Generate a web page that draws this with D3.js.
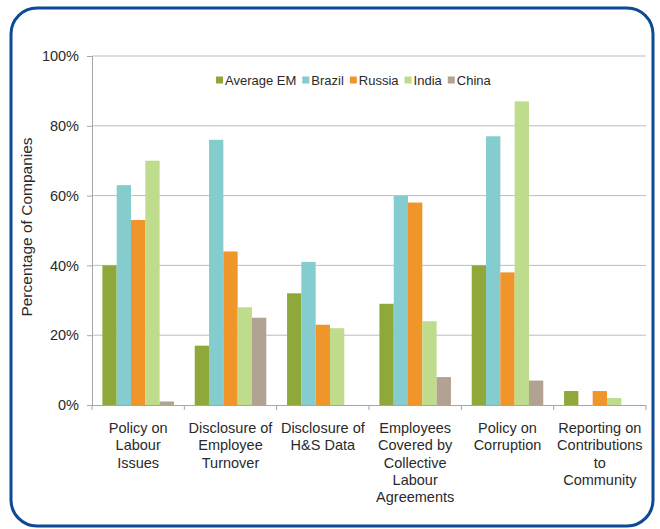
<!DOCTYPE html>
<html><head><meta charset="utf-8">
<script src="https://cdn.jsdelivr.net/npm/d3@7"></script>
<style>body{margin:0;background:#fff;}svg{display:block;font-family:"Liberation Sans",Arial,sans-serif;}</style>
</head><body>
<svg id="c" width="660" height="529"></svg>
<script>
const categories = [
  ["Policy on","Labour","Issues"],
  ["Disclosure of","Employee","Turnover"],
  ["Disclosure of","H&S Data"],
  ["Employees","Covered by","Collective","Labour","Agreements"],
  ["Policy on","Corruption"],
  ["Reporting on","Contributions","to","Community"]
];
const seriesNames = ["Average EM","Brazil","Russia","India","China"];
const avgEM  = [40,17,32,29,40,4];
const brazil = [63,76,41,60,77,0];
const russia = [53,44,23,58,38,4];
const india  = [70,28,22,24,87,2];
const china  = [1,25,0,8,7,0];
const colors = ["#8fa83a","#85cccf","#f0952a","#bfdb8c","#b1a292"];
const yTicks = [0,20,40,60,80,100];

const series = [avgEM, brazil, russia, india, china];
const svg = d3.select("#c");

svg.append("rect").attr("x",11).attr("y",8).attr("width",642).attr("height",518)
  .attr("rx",26).attr("fill","#fff").attr("stroke","#0d4a96").attr("stroke-width",3);

const m = {l:92, r:646, t:56, b:405};
const x0 = d3.scaleBand().domain(d3.range(categories.length)).range([m.l,m.r]).paddingInner(0.225).paddingOuter(0.1125);
const x1 = d3.scaleBand().domain(d3.range(series.length)).range([0,x0.bandwidth()]);
const y = d3.scaleLinear().domain([0,100]).range([m.b,m.t]);

// gridlines
svg.append("g").selectAll("line").data(yTicks.filter(d=>d>0)).join("line")
  .attr("x1",m.l).attr("x2",m.r).attr("y1",d=>y(d)).attr("y2",d=>y(d))
  .attr("stroke","#bdbdbd").attr("stroke-width",1);

// y axis
const ya = svg.append("g").attr("transform",`translate(${m.l},0)`)
  .call(d3.axisLeft(y).tickValues(yTicks).tickFormat(d=>d+"%").tickSize(5).tickPadding(8));
ya.select(".domain").attr("stroke","#a6a6a6");
ya.selectAll(".tick line").attr("stroke","#a6a6a6");
ya.selectAll("text").attr("font-size",14.5).attr("fill","#2a2a2a").attr("font-family","Liberation Sans, Arial, sans-serif");

// bars
categories.forEach((c,i)=>{
  series.forEach((s,j)=>{
    svg.append("rect").attr("x",x0(i)+x1(j)).attr("width",x1.bandwidth())
      .attr("y",y(s[i])).attr("height",y(0)-y(s[i])).attr("fill",colors[j]);
  });
});

// x axis
svg.append("line").attr("x1",m.l).attr("x2",m.r).attr("y1",y(0)+0.5).attr("y2",y(0)+0.5).attr("stroke","#a6a6a6");
const bounds = d3.range(categories.length+1).map(i=>m.l+i*(m.r-m.l)/categories.length);
svg.append("g").selectAll("line").data(bounds).join("line")
  .attr("x1",d=>d).attr("x2",d=>d).attr("y1",y(0)).attr("y2",y(0)+5).attr("stroke","#a6a6a6");

categories.forEach((lines,i)=>{
  const cx = x0(i)+x0.bandwidth()/2;
  const t = svg.append("text").attr("text-anchor","middle").attr("font-size",14.5).attr("fill","#2a2a2a");
  lines.forEach((ln,k)=>t.append("tspan").attr("x",cx).attr("y",433+k*17.3).text(ln));
});

// y title
svg.append("text").attr("transform","translate(32,227) rotate(-90)").attr("text-anchor","middle")
  .attr("font-size",15.5).attr("fill","#2a2a2a").text("Percentage of Companies");

// legend
const lg = svg.append("g").attr("transform","translate(216,80)");
let lx = 0;
seriesNames.forEach((n,j)=>{
  lg.append("rect").attr("x",lx).attr("y",-3.5).attr("width",7).attr("height",7).attr("fill",colors[j]);
  const t = lg.append("text").attr("x",lx+9).attr("y",4.5).attr("font-size",13).attr("fill","#2a2a2a").text(n);
  lx += 9 + t.node().getComputedTextLength() + 6;
});
</script>
</body></html>
